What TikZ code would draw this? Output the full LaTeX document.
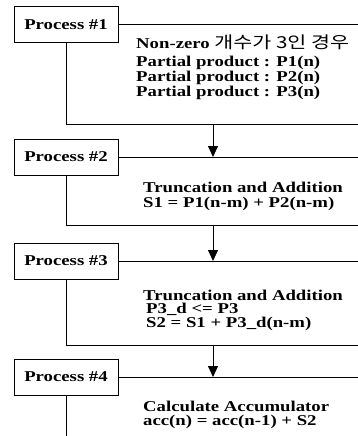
\documentclass[tikz,border=0pt]{standalone}
\usepackage{fontspec}
\setmainfont[FakeStretch=1.25]{Liberation Serif}
\newfontfamily\kor[FakeStretch=1.25]{Noto Sans CJK KR}
\usetikzlibrary{arrows.meta, positioning, calc}
\tikzstyle{procbox} = [rectangle, minimum width=104pt, minimum height=36pt, text centered, draw=black, line width=1pt, font=\fontsize{15}{15}\selectfont\bfseries]
\tikzstyle{desc} = [anchor=west, align=left, inner sep=0pt, font=\fontsize{15}{15}\selectfont\bfseries]
\tikzstyle{frame} = [line width=1pt]
\tikzstyle{arrow} = [line width=1pt, -{Triangle[length=11pt, width=10pt]}]

\begin{document}
\begin{tikzpicture}[x=1pt, y=-1pt]
\useasboundingbox (0,0) rectangle (358,436);

\node (p1) [procbox] at (66,25) {Process \#1};
\node (p2) [procbox] at (66,157) {Process \#2};
\node (p3) [procbox] at (66,261) {Process \#3};
\node (p4) [procbox] at (66,377) {Process \#4};

% right edge and bottom lines
\coordinate (edge) at (358,0);
\coordinate (b1) at (213,124);
\coordinate (b2) at (213,225);
\coordinate (b3) at (213,345);
\coordinate (b4) at (66,436);

\node (t1) [desc] at (136,67) {Non-zero {\kor\mdseries\fontsize{16.5}{15}\selectfont 개수가 3인 경우}\\[3pt]
Partial product : P1(n)\\
Partial product : P2(n)\\
Partial product : P3(n)};
\node (t2) [desc] at (143,196) {Truncation and Addition\\
S1 = P1(n-m) + P2(n-m)};
\node (t3) [desc] at (143,310) {Truncation and Addition\\[-1.5pt]
\hspace{3pt}P3\_d <= P3\\[-1.5pt]
\hspace{3pt}S2 = S1 + P3\_d(n-m)};
\node (t4) [desc] at (143,415) {Calculate Accumulator\\[-1.5pt]
acc(n) = acc(n-1) + S2};

\draw [frame] (p1.east) -- (p1.east -| edge);
\draw [frame] (p1.south) -- (p1.south |- b1) -- (b1 -| edge);
\draw [arrow] (b1) -- (b1 |- p2.east);

\draw [frame] (p2.east) -- (p2.east -| edge);
\draw [frame] (p2.south) -- (p2.south |- b2) -- (b2 -| edge);
\draw [arrow] (b2) -- (b2 |- p3.east);

\draw [frame] (p3.east) -- (p3.east -| edge);
\draw [frame] (p3.south) -- (p3.south |- b3) -- (b3 -| edge);
\draw [arrow] (b3) -- (b3 |- p4.east);

\draw [frame] (p4.east) -- (p4.east -| edge);
\draw [frame] (p4.south) -- (b4);

\end{tikzpicture}
\end{document}
